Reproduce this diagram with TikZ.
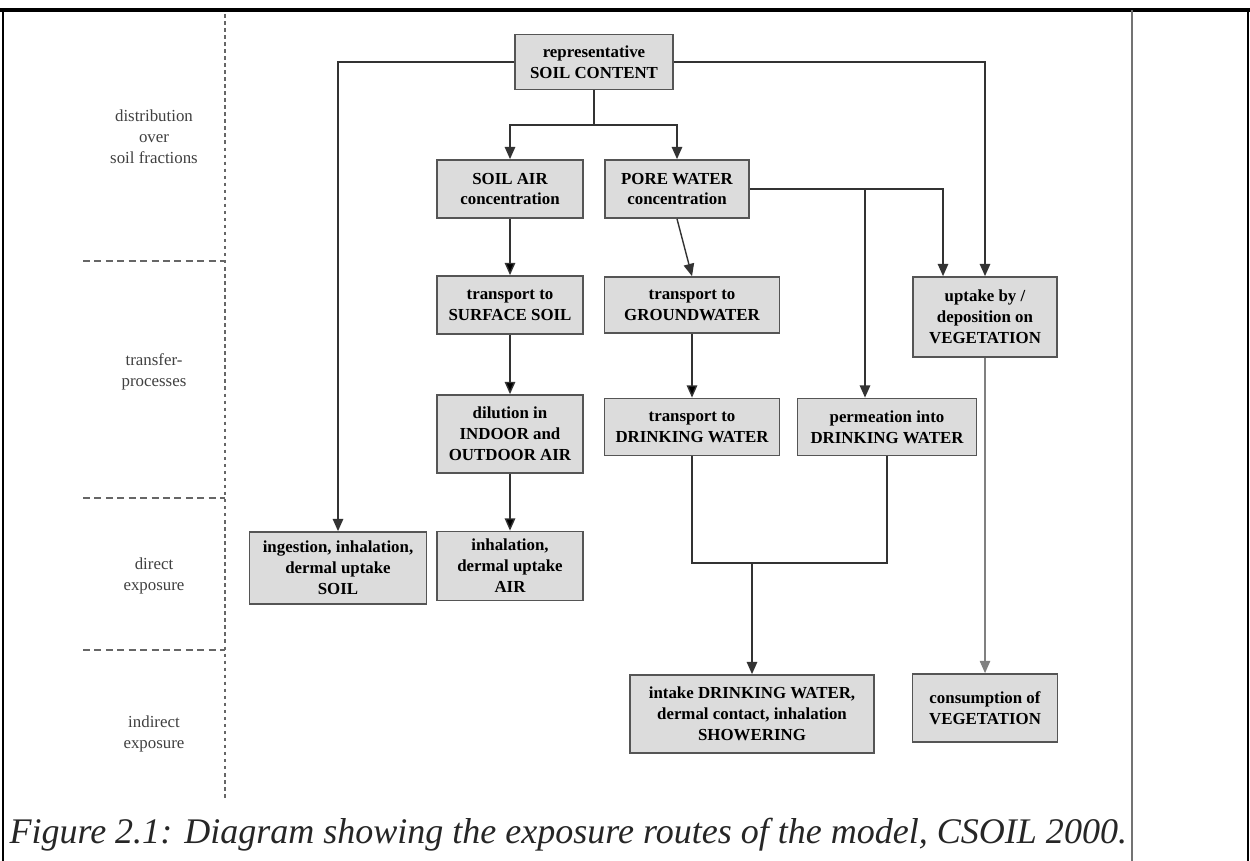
\documentclass[tikz,border=0pt]{standalone}
\usepackage{fontspec}
\setmainfont{Liberation Serif}
\usepackage{tikz}
\usetikzlibrary{arrows.meta}
\usepackage{xcolor}
\definecolor{boxfill}{HTML}{DCDCDC}
\definecolor{boxline}{HTML}{555555}
\definecolor{wireline}{HTML}{333333}

\begin{document}
\begin{tikzpicture}[x=0.02cm,y=-0.02cm,line width=0.8pt,
    box/.style={draw=boxline,fill=boxfill,line width=1pt,align=center,inner sep=2pt,
      font=\bfseries\fontsize{9.6}{11.9}\selectfont,minimum width=2.92cm,minimum height=1.16cm},
    side/.style={align=center,font=\fontsize{9.6}{11.9}\selectfont,text=black!75},
    arr/.style={draw=wireline,-{Triangle[length=7pt,width=6pt]}},
    wire/.style={draw=wireline},
    level/.style={draw=black!60,line width=0.6pt,dash pattern=on 4pt off 2.5pt}]
  \useasboundingbox (0,0) rectangle (1250,861);

  \draw[line width=1.8pt] (0,10) -- (1250,10);
  \draw[line width=1.2pt] (3,10) -- (3,861);
  \draw[line width=1.2pt] (1248,10) -- (1248,861);
  \draw[draw=black!55,line width=0.8pt] (1132,10) -- (1132,861);

  \draw[draw=black!60,line width=0.6pt,dash pattern=on 2pt off 2pt] (225,14) -- (225,800);
  \draw[level] (83,261) -- (225,261);
  \draw[level] (83,498) -- (225,498);
  \draw[level] (83,650) -- (225,650);

  \node[side] (dist)  at (154,137) {distribution\\over\\soil fractions};
  \node[side] (trans) at (154,372) {transfer-\\processes};
  \node[side] (direx) at (154,576) {direct\\exposure};
  \node[side] (index) at (154,734) {indirect\\exposure};

  \node[box,minimum width=3.16cm,minimum height=1.1cm] (soil) at (594,62) {representative\\SOIL CONTENT};
  \node[box] (soilair) at (510,189) {SOIL AIR\\concentration};
  \node[box,minimum width=2.88cm] (pore) at (677,189) {PORE WATER\\concentration};
  \node[box] (surface) at (510,305) {transport to\\SURFACE SOIL};
  \node[box,minimum width=3.5cm,minimum height=1.12cm] (ground) at (692,305) {transport to\\GROUNDWATER};
  \node[box,minimum width=2.88cm,minimum height=1.6cm] (veg) at (985,317) {uptake by /\\deposition on\\VEGETATION};
  \node[box,minimum height=1.56cm] (dilution) at (510,434) {dilution in\\INDOOR and\\OUTDOOR AIR};
  \node[box,minimum width=3.5cm,minimum height=1.14cm] (drinkT) at (692,427) {transport to\\DRINKING WATER};
  \node[box,minimum width=3.58cm,minimum height=1.14cm] (perm) at (887,427) {permeation into\\DRINKING WATER};
  \node[box,minimum width=3.54cm,minimum height=1.44cm] (soilexp) at (338,568) {ingestion, inhalation,\\dermal uptake\\SOIL};
  \node[box,minimum height=1.38cm] (airexp) at (510,566) {inhalation,\\dermal uptake\\AIR};
  \node[box,minimum width=4.88cm,minimum height=1.56cm] (shower) at (752,714) {intake DRINKING WATER,\\dermal contact, inhalation\\SHOWERING};
  \node[box,minimum width=2.9cm,minimum height=1.36cm] (vegcons) at (985,708) {consumption of\\VEGETATION};

  \coordinate (split)  at (594,125);
  \coordinate (join)   at (752,563);
  \coordinate (vegin)  at ([xshift=-0.84cm]veg.north);
  \coordinate (permin) at ([xshift=-0.44cm]perm.north);

  \draw[arr] (soil.west) -| (soilexp.north);
  \draw[arr] (soil.east) -| (veg.north);
  \draw[wire] (soil.south) -- (split);
  \draw[arr] (split) -| (soilair.north);
  \draw[arr] (split) -| (pore.north);
  \path[arr] (soilair) edge (surface)
             (surface) edge (dilution)
             (dilution) edge (airexp)
             (ground) edge (drinkT);
  \draw[arr] (pore.south) -- (ground.north);
  \draw[arr] (pore.east) -| (vegin);
  \draw[arr] (permin |- pore.east) -- (permin);
  \draw[wire] (drinkT.south) |- (join) -| (perm.south);
  \draw[arr] (join) -- (shower.north);
  \draw[draw=black!50,line width=0.6pt,-{Triangle[length=7pt,width=6pt]}] (veg.south) -- (vegcons.north);

  \node[anchor=base west,font=\itshape\fontsize{20.5}{24}\selectfont,text=black!85] (caption) at (3,843)
    {Figure 2.1: Diagram showing the exposure routes of the model, CSOIL 2000.};
\end{tikzpicture}
\end{document}
